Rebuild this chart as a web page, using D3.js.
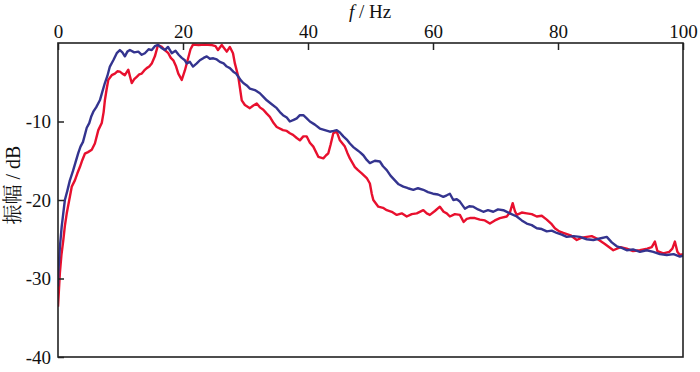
<!DOCTYPE html>
<html><head><meta charset="utf-8">
<script src="https://cdn.jsdelivr.net/npm/d3@7"></script>
<style>body{margin:0;background:#fff}svg{display:block}</style>
</head><body>
<svg id="c" width="700" height="372"></svg>
<script>
const xTicks = [0, 20, 40, 60, 80, 100];
const yTicks = [-10, -20, -30, -40];
const xTitle = "/ Hz";
const yTitle = "振幅 / dB";

const blueF = [0,0.05,0.3,0.59,0.8,1.1,1.5,1.9,2.4,2.8,3.25,3.6,4.0,4.6,5.0,5.3,5.65,6.1,6.7,7.1,7.5,7.9,8.3,8.85,9.4,9.9,10.3,10.7,11.1,11.5,12.2,12.85,13.4,13.9,14.5,15,15.5,16,16.5,17.1,17.6,18.2,18.8,19.3,19.8,20.3,20.6,21.1,21.6,22.2,22.7,23.3,23.8,24.3,24.85,25.4,25.9,26.5,27,27.5,28.05,28.5,28.85,29.3,29.65,30.2,30.7,31.5,32.3,32.9,33.4,34.2,35,35.5,36,36.6,37.1,37.7,38.2,38.7,39.25,39.8,40.3,41.1,41.9,42.7,43.5,44.1,44.6,45.1,45.65,46.2,46.7,47.3,47.8,48.3,48.85,49.4,49.9,50.7,51.5,52.0,52.6,53.2,53.9,54.5,55.25,56.0,56.85,57.6,58.45,59.2,60,60.8,61.65,62.2,62.7,63.25,63.8,64.3,65.1,65.8,66.45,67.2,68.05,68.8,69.65,70.4,71.25,72.3,73.4,74.2,75,75.8,76.6,77.4,78.2,79,79.8,80.6,81.4,82.5,83.5,84.6,85.65,86.7,87.8,88.6,89.4,90.2,91,92,93.1,94.2,95.25,96.3,97.4,98.5,99.5,100];
const blueA = [-31,-29.3,-26,-23.4,-22,-20,-18.8,-17.5,-16.3,-15.2,-14.0,-13.2,-12.6,-10.8,-10.2,-9.4,-8.75,-8.2,-7.3,-6.2,-5.1,-4.2,-3.0,-2.2,-1.3,-0.9,-1.2,-1.7,-1.1,-0.9,-1.2,-1.1,-1.5,-1.3,-0.8,-0.9,-0.4,-0.25,-0.6,-0.9,-0.5,-1.3,-1.0,-1.5,-1.9,-2.2,-2.6,-2.4,-3.0,-2.6,-2.2,-1.9,-1.7,-2.0,-1.95,-2.1,-2.4,-2.6,-3.0,-3.2,-3.65,-3.9,-4.3,-4.8,-5.1,-5.4,-5.8,-6.0,-6.4,-6.9,-7.3,-7.8,-8.3,-8.8,-9.2,-9.5,-10.0,-9.8,-9.6,-9.2,-9.2,-9.6,-10.0,-10.4,-10.9,-11.1,-11.3,-11.2,-11.1,-11.4,-11.9,-12.3,-12.8,-13.3,-13.6,-13.9,-14.3,-14.9,-15.3,-15.0,-15.1,-15.7,-16.2,-16.9,-17.5,-18.0,-18.3,-18.5,-18.7,-18.5,-18.7,-19.0,-19.2,-19.3,-19.6,-19.4,-19.2,-20,-19.9,-20.2,-21.1,-20.8,-20.85,-21.2,-21.5,-21.3,-21.5,-21.2,-21.3,-21.7,-22.1,-22.6,-23,-23.2,-23.6,-23.7,-24,-23.9,-24.2,-24.4,-24.7,-24.6,-24.7,-25.0,-25.1,-24.9,-24.7,-25.4,-25.9,-26.1,-26.4,-26.3,-26.6,-26.4,-26.6,-26.9,-27,-26.9,-27.2,-27.1];

const redF = [0,0.3,0.55,0.85,1.1,1.4,1.8,2.2,2.7,3.1,3.5,3.9,4.3,4.8,5.4,5.9,6.45,7,7.3,7.5,7.8,8.05,8.6,9.1,9.5,9.9,10.3,10.7,11.25,11.5,11.8,12.2,12.6,13.0,13.4,13.8,14.2,14.6,15,15.5,16,16.6,17.1,17.65,18.05,18.45,18.9,19.25,19.8,20.3,20.8,21.2,21.6,22.5,23.5,24.5,25.2,25.6,26.2,27,27.5,28,28.3,28.85,29.4,29.9,30.7,31.2,31.8,32.3,32.85,33.4,33.9,34.5,35,36,36.6,37.1,37.6,38.2,38.7,39.25,39.8,40.3,40.85,41.65,42.45,42.9,43.25,43.6,44.05,44.6,45.1,45.9,46.3,46.7,47.5,48.0,48.6,49.4,49.9,50.2,50.45,51.25,52.0,52.6,53.4,54.2,55.0,55.8,56.6,57.4,58.45,59.0,59.5,60.3,61.1,61.7,62.2,62.7,63.5,64.3,64.9,65.4,65.9,66.7,67.5,68.3,69.1,69.9,70.7,71.8,72.3,72.75,73.1,73.4,74.2,75,75.8,76.6,77.4,78.2,78.9,79.5,80.2,80.85,82,83,83.8,84.6,85.4,86.2,87.5,88.85,90,91,92,93.1,94.3,95.0,95.5,95.9,96.85,97.8,98.3,98.7,99.1,99.5,100];
const redA = [-33.6,-29.3,-27,-25.1,-23.3,-21.7,-20,-18.3,-17.5,-16.6,-15.8,-14.9,-14.1,-13.9,-13.6,-12.8,-11.1,-10.2,-8.8,-7.3,-5.8,-4.7,-4.1,-3.9,-3.6,-3.65,-3.9,-4.1,-3.4,-4.2,-5.1,-4.6,-4.3,-4.0,-3.9,-3.5,-3.2,-3.0,-2.6,-1.7,-0.25,-0.5,-0.9,-1.3,-1.9,-2.2,-3.0,-3.9,-4.7,-3.5,-2.0,-0.8,-0.2,-0.25,-0.2,-0.25,-0.4,-0.9,-0.25,-1.1,-0.5,-1.3,-2.6,-4.3,-7.3,-7.9,-8.3,-8.0,-7.7,-8.2,-8.5,-9.0,-9.4,-10.2,-10.7,-11.1,-11.2,-11.5,-11.7,-12.1,-12.4,-11.9,-11.9,-12.7,-13.2,-14.5,-14.7,-14.3,-14.05,-13.0,-11.5,-11.3,-12.4,-13.2,-14.0,-14.7,-15.8,-16.2,-16.6,-17.2,-17.9,-19.2,-20,-20.85,-21.0,-21.3,-21.5,-21.9,-21.7,-22.1,-21.8,-21.7,-21.3,-21.7,-21.9,-21.4,-20.85,-21.5,-21.7,-22.1,-21.8,-21.9,-22.8,-22.4,-22.3,-22.3,-22.5,-22.6,-23,-22.6,-22.3,-22.1,-21.6,-20.4,-21.4,-21.9,-21.6,-21.7,-21.8,-22.1,-22.0,-22.5,-23.0,-23.6,-24.0,-24.2,-24.5,-25.1,-24.8,-24.7,-24.6,-24.9,-25.6,-26.4,-26.0,-26.2,-26.5,-26.4,-26.2,-26.0,-25.3,-26.5,-26.8,-26.6,-26.2,-25.3,-26.6,-27,-26.9];

const svg = d3.select("#c");
const m = {l: 58, t: 43, r: 683, b: 357};
const x = d3.scaleLinear().domain([0, 100]).range([m.l, m.r]);
const y = d3.scaleLinear().domain([0, -40]).range([m.t, m.b]);
const SERIF = "Liberation Serif";
const CJK = "Liberation Serif, Noto Serif CJK SC";

svg.append("defs").append("clipPath").attr("id", "pc")
  .append("rect").attr("x", m.l).attr("y", m.t).attr("width", m.r - m.l).attr("height", m.b - m.t);

const line = d3.line().x(d => x(d[0])).y(d => y(d[1]));
const blue = blueF.map((f, i) => [f, blueA[i]]);
const red = redF.map((f, i) => [f, redA[i]]);

const g = svg.append("g").attr("clip-path", "url(#pc)");
g.append("path").datum(red).attr("d", line).attr("fill", "none")
  .attr("stroke", "#e8102e").attr("stroke-width", 2.4).attr("stroke-linejoin", "round");
g.append("path").datum(blue).attr("d", line).attr("fill", "none")
  .attr("stroke", "#34348f").attr("stroke-width", 2.4).attr("stroke-linejoin", "round");

svg.append("rect").attr("x", m.l).attr("y", m.t).attr("width", m.r - m.l).attr("height", m.b - m.t)
  .attr("fill", "none").attr("stroke", "#222").attr("stroke-width", 1.6);

const fmt = d => String(d);
const xa = svg.append("g").attr("transform", `translate(0,${m.t})`)
  .call(d3.axisTop(x).tickValues(xTicks).tickSize(-7).tickPadding(5).tickFormat(fmt));
const ya = svg.append("g").attr("transform", `translate(${m.l},0)`)
  .call(d3.axisLeft(y).tickValues(yTicks).tickSize(-6).tickPadding(7).tickFormat(fmt));
[xa, ya].forEach(a => {
  a.attr("font-family", SERIF).attr("font-size", 19);
  a.select(".domain").remove();
  a.selectAll(".tick line").attr("stroke", "#222").attr("stroke-width", 1.5);
  a.selectAll(".tick text").attr("fill", "#111").attr("font-family", SERIF).attr("font-size", 19);
});

const t = svg.append("text").attr("x", 370).attr("y", 18).attr("text-anchor", "middle")
  .attr("font-family", SERIF).attr("font-size", 19).attr("fill", "#111");
t.append("tspan").attr("font-style", "italic").text("f");
t.append("tspan").text(" " + xTitle);

svg.append("text").attr("transform", "translate(20,185) rotate(-90)").attr("text-anchor", "middle")
  .attr("font-family", CJK).attr("font-size", 20).attr("fill", "#111").text(yTitle);
</script>
</body></html>
